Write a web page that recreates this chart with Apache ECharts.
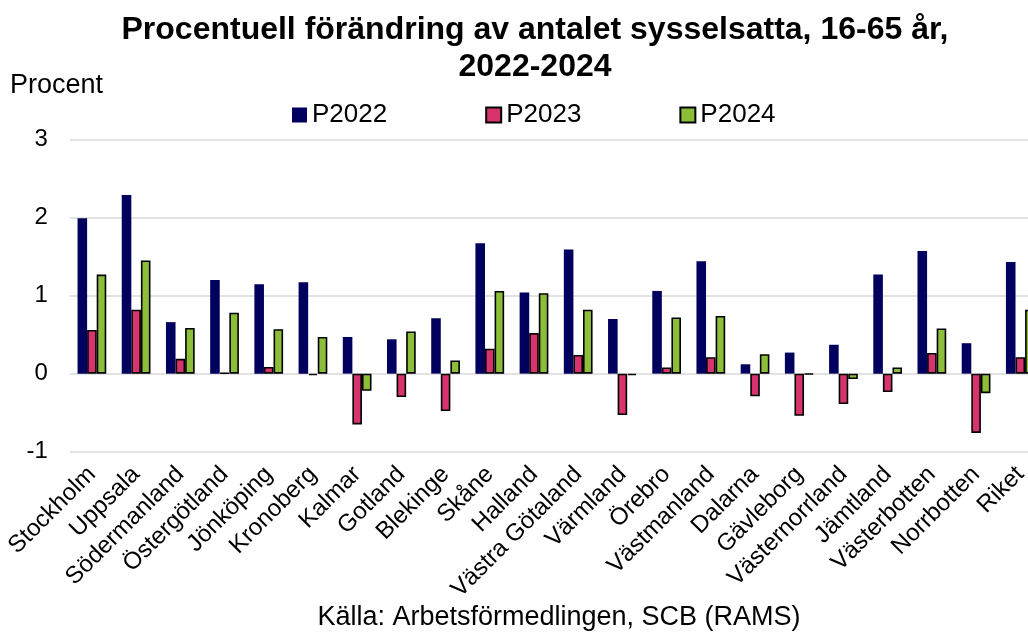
<!DOCTYPE html>
<html>
<head>
<meta charset="utf-8">
<script src="https://cdn.jsdelivr.net/npm/echarts@6/dist/echarts.min.js"></script>
<style>
html,body{margin:0;padding:0;background:#fff;}
#chart{width:1028px;height:632px;}
</style>
</head>
<body>
<div id="chart"></div>
<script>
const categories = ["Stockholm","Uppsala","Södermanland","Östergötland","Jönköping","Kronoberg","Kalmar","Gotland","Blekinge","Skåne","Halland","Västra Götaland","Värmland","Örebro","Västmanland","Dalarna","Gävleborg","Västernorrland","Jämtland","Västerbotten","Norrbotten","Riket"];
const p2022 = [1.99, 2.29, 0.66, 1.20, 1.145, 1.17, 0.47, 0.44, 0.71, 1.67, 1.04, 1.59, 0.70, 1.06, 1.44, 0.12, 0.27, 0.37, 1.27, 1.57, 0.39, 1.43];
const p2023 = [0.56, 0.82, 0.19, 0.01, 0.085, -0.02, -0.65, -0.30, -0.48, 0.32, 0.52, 0.24, -0.53, 0.08, 0.21, -0.29, -0.54, -0.39, -0.235, 0.265, -0.76, 0.21];
const p2024 = [1.27, 1.45, 0.585, 0.78, 0.57, 0.47, -0.22, 0.54, 0.17, 1.06, 1.03, 0.82, -0.02, 0.72, 0.74, 0.25, -0.01, -0.07, 0.08, 0.58, -0.25, 0.82];
const seriesNames = ["P2022", "P2023", "P2024"];
const yTicks = { min: -1, max: 3, interval: 1 };

const FONT = "'Liberation Sans', Arial, sans-serif";
const chart = echarts.init(document.getElementById('chart'), null, { renderer: 'canvas' });
const colors = ['#00005E', '#D6336F', '#8DBE3A'];

chart.setOption({
  animation: false,
  backgroundColor: '#ffffff',
  textStyle: { fontFamily: FONT, color: '#000' },
  title: {
    text: 'Procentuell förändring av antalet sysselsatta, 16-65 år,\n2022-2024',
    left: 530,
    top: 7,
    textAlign: 'center',
    textStyle: { fontFamily: FONT, fontSize: 32, fontWeight: 'bold', color: '#000', lineHeight: 37 }
  },
  graphic: [
    { type: 'text', left: 10, top: 72, style: { text: 'Procent', fontFamily: FONT, fontSize: 27, fill: '#000' } },
    { type: 'text', x: 559, y: 618, style: { text: 'Källa: Arbetsförmedlingen, SCB (RAMS)', fontFamily: FONT, fontSize: 27, fill: '#000', textAlign: 'center', textVerticalAlign: 'middle' } }
  ],
  legend: {
    left: 287,
    top: 97,
    itemWidth: 15,
    itemHeight: 15,
    itemGap: 98,
    icon: 'rect',
    textStyle: { fontFamily: FONT, fontSize: 26, color: '#000' },
    data: seriesNames
  },
  grid: { left: 69.8, width: 972.6, top: 139.5, bottom: 180.3, containLabel: false, outerBoundsMode: 'none' },
  xAxis: {
    type: 'category',
    data: categories,
    axisLine: { show: false, onZero: false },
    axisTick: { show: false },
    axisLabel: { interval: 0, rotate: 45, margin: 19, fontFamily: FONT, fontSize: 24, color: '#000' },
    splitLine: { show: false }
  },
  yAxis: {
    type: 'value',
    min: yTicks.min,
    max: yTicks.max,
    interval: yTicks.interval,
    axisLine: { show: false },
    axisTick: { show: false },
    axisLabel: { margin: 22, fontFamily: FONT, fontSize: 24, color: '#000' },
    splitLine: { lineStyle: { color: '#D9D9D9', width: 1.5 } }
  },
  series: [
    { name: seriesNames[0], type: 'bar', data: p2022, barGap: '0%', barCategoryGap: '35%', itemStyle: { color: colors[0] } },
    { name: seriesNames[1], type: 'bar', data: p2023, barGap: '0%', barCategoryGap: '35%', itemStyle: { color: colors[1], borderColor: '#000', borderWidth: 1.6 } },
    { name: seriesNames[2], type: 'bar', data: p2024, barGap: '0%', barCategoryGap: '35%', itemStyle: { color: colors[2], borderColor: '#000', borderWidth: 1.6 } }
  ]
});
</script>
</body>
</html>
